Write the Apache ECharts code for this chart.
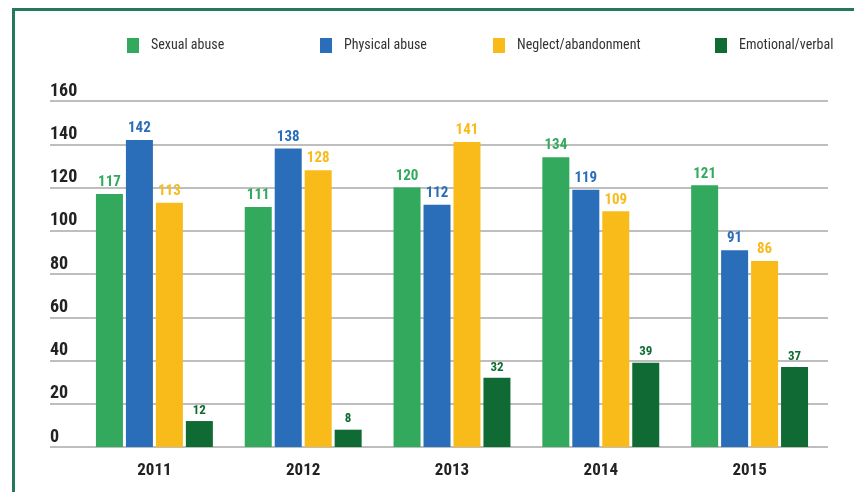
<!DOCTYPE html>
<html>
<head>
<meta charset="utf-8">
<script src="https://cdn.jsdelivr.net/npm/echarts@6/dist/echarts.min.js"></script>
<style>
html,body{margin:0;padding:0;background:#fff;}
#chart{width:854px;height:492px;}
</style>
</head>
<body>
<div id="chart"></div>
<script>
var years=['2011','2012','2013','2014','2015'];
var sexual=[117,111,120,134,121];
var physical=[142,138,112,119,91];
var neglect=[113,128,141,109,86];
var emotional=[12,8,32,39,37];
var yTicks=[0,20,40,60,80,100,120,140,160];

var names=['Sexual abuse','Physical abuse','Neglect/abandonment','Emotional/verbal'];
var colors=['#33a95e','#2a6db8','#f8bb1a','#0f6a33'];
var values=[sexual,physical,neglect,emotional];
var legendLeft=[122,315,488,710];

var font='"Roboto Condensed",Roboto,sans-serif';

var chart=echarts.init(document.getElementById('chart'));

// one legend per item, they are not evenly spaced
var legends=[];
for(var i=0;i<names.length;i++){
	legends.push({
		left:legendLeft[i],
		top:33,
		icon:'rect',
		itemWidth:12,
		itemHeight:15,
		itemGap:0,
		data:[names[i]],
		textStyle:{fontFamily:font,fontSize:14,color:'#333',padding:[0,0,0,7]},
		selectedMode:false
	});
}

var series=[];
for(var i=0;i<names.length;i++){
	series.push({
		name:names[i],
		type:'bar',
		xAxisIndex:1,
		yAxisIndex:1,
		data:values[i],
		barWidth:27,
		barGap:'11%',
		itemStyle:{color:colors[i]},
		label:{
			show:true,
			position:'top',
			distance:4,
			color:colors[i],
			fontFamily:font,
			fontWeight:'bold',
			fontSize:i==3?13:15
		}
	});
}

var option={
	backgroundColor:'#fff',
	animation:false,
	legend:legends,
	grid:[
		{left:50,right:26,top:101,bottom:45},
		{left:80,right:30,top:101,bottom:45}
	],
	xAxis:[
		{type:'category',gridIndex:0,data:years,show:false},
		{
			type:'category',gridIndex:1,data:years,
			axisLine:{show:false},
			axisTick:{show:false},
			axisLabel:{fontFamily:font,fontWeight:'bold',fontSize:17,color:'#222',margin:15}
		}
	],
	yAxis:[
		{
			type:'value',gridIndex:0,min:0,max:160,interval:20,
			axisLine:{show:false},
			axisTick:{show:false},
			splitLine:{lineStyle:{color:'#a8a8a8',width:1.5}},
			axisLabel:{
				inside:true,margin:0,
				verticalAlign:'bottom',
				padding:[0,0,1,0],
				fontFamily:font,fontWeight:'bold',fontSize:18,color:'#222',
				formatter:function(v){return yTicks.indexOf(v)>=0?String(v):'';}
			}
		},
		{type:'value',gridIndex:1,min:0,max:160,interval:20,show:false}
	],
	series:series,
	graphic:[
		{type:'line',shape:{x1:13.5,y1:9.5,x2:854,y2:9.5},style:{stroke:'#23795a',lineWidth:3}},
		{type:'line',shape:{x1:13.5,y1:8,x2:13.5,y2:492},style:{stroke:'#23795a',lineWidth:3}}
	]
};
chart.setOption(option);
</script>
</body>
</html>
